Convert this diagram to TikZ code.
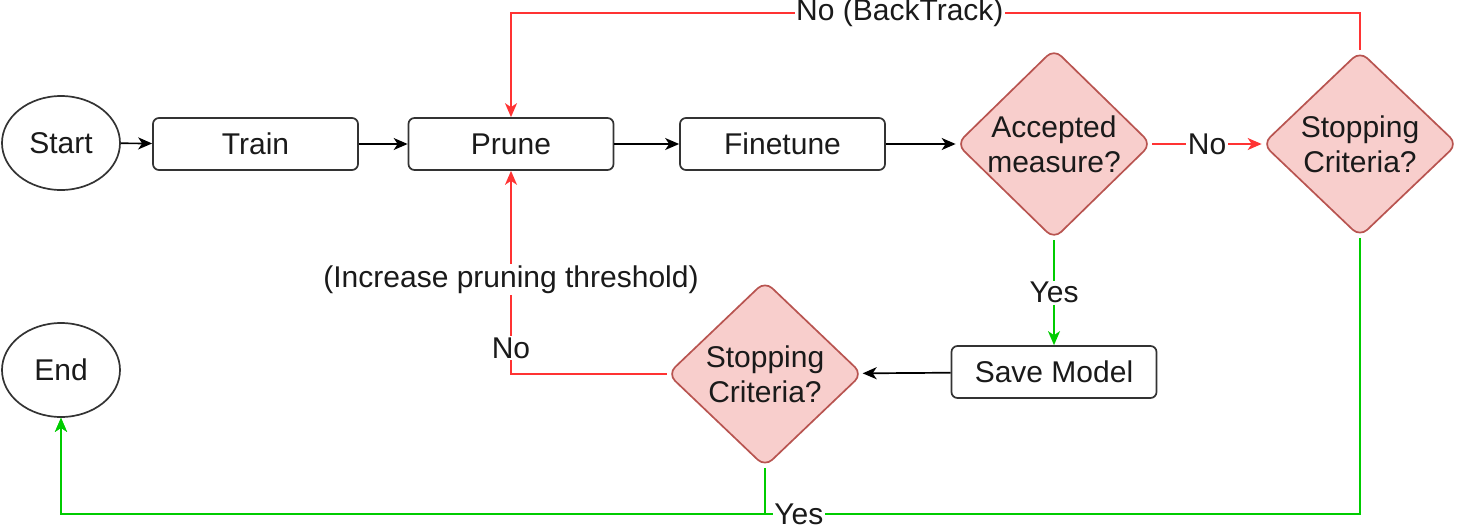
\documentclass[tikz,border=0pt]{standalone}
\usepackage{fontspec}
\setmainfont{Liberation Sans}
\usetikzlibrary{shapes.geometric,arrows.meta}
\definecolor{redline}{HTML}{FF3333}
\definecolor{greenline}{HTML}{00CC00}
\definecolor{dfill}{HTML}{F8CECC}
\definecolor{ddraw}{HTML}{B85450}
\definecolor{txt}{HTML}{1A1A1A}
\begin{document}
\begin{tikzpicture}[x=1pt,y=-1pt,
  every node/.style={font=\fontsize{30}{35}\selectfont, text=txt},
  term/.style={ellipse, draw=black!80, line width=1.7pt, minimum width=118pt, minimum height=94pt, inner sep=0pt},
  proc/.style={rectangle, rounded corners=6pt, draw=black!80, line width=1.7pt, minimum width=205pt, minimum height=52pt, inner sep=0pt},
  dec/.style={diamond, aspect=1, rounded corners=10pt, draw=ddraw, fill=dfill, line width=1.7pt, minimum width=195pt, minimum height=186pt, inner sep=0pt, align=center},
  tip/.style={-{Stealth[length=14pt,width=12pt,inset=4pt]}},
  blk/.style={draw=black, line width=1.7pt, tip},
  redarr/.style={draw=redline, line width=1.7pt, tip},
  grnarr/.style={draw=greenline, line width=1.7pt, tip},
  lbl/.style={fill=white, inner sep=1.5pt, text=txt}
]
\useasboundingbox (0,0) rectangle (1458,525);

\node[term] (start) at (61,143) {Start};
\node[proc] (train) at (255.5,144) {Train};
\node[proc] (prune) at (511,144) {Prune};
\node[proc] (fine) at (782.5,144) {Finetune};
\node[dec] (acc) at (1054,144) {Accepted\\measure?};
\node[dec] (stop1) at (1360,144) {Stopping\\Criteria?};
\node[proc] (save) at (1054,372) {Save Model};
\node[dec] (stop2) at (765,374) {Stopping\\Criteria?};
\node[term] (end) at (61,370) {End};
\coordinate (bt) at (511,13);
\coordinate (bl) at (61,514);

\draw[blk] (start) -- (train);
\draw[blk] (train) -- (prune);
\draw[blk] (prune) -- (fine);
\draw[blk] (fine) -- (acc);
\draw[blk] (save) -- (stop2);

\draw[redarr] (acc) -- node[lbl] {No} (stop1);
\draw[redarr] (stop1.north) |- node[lbl, pos=0.771] {No (BackTrack)} (bt) -- (prune.north);
\draw[redarr] (stop2.west) -| node[lbl, pos=0.564] {No} node[lbl, pos=0.733] {(Increase pruning threshold)} (prune.south);

\draw[grnarr] (acc.south) -- node[lbl] {Yes} (save.north);
\draw[grnarr] (stop2.south) |- (bl) -- (end.south);
\draw[grnarr] (stop1.south) |- node[lbl, pos=0.716] {Yes} (bl) -- (end.south);
\end{tikzpicture}
\end{document}
